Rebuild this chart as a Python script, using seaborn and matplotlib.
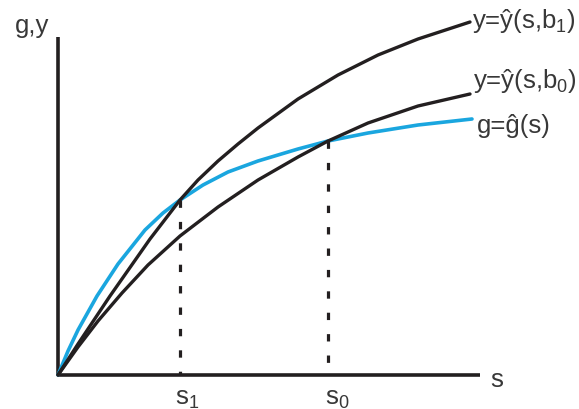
import matplotlib
matplotlib.use("Agg")
import matplotlib.pyplot as plt
import seaborn as sns

# Werte (Ursprung = Achsenkreuz, Einheit ~ Pixel)
s_b1 = [0, 20, 52, 92, 122, 140, 160, 180, 200, 240, 280, 320, 360, 412]
y_b1 = [0, 31, 79, 136, 175, 195, 214, 231, 247, 276, 300, 320, 336, 353]

s_b0 = [0, 20, 40, 64, 90, 122, 160, 200, 240, 270, 310, 360, 412]
y_b0 = [0, 28, 54, 82, 110, 139, 168, 195, 218, 234, 252, 269, 281]

s_g = [0, 10, 20, 39, 60, 87, 105, 122, 145, 170, 200, 240, 270, 310, 360, 414]
y_g = [0, 24, 45, 79, 111, 145, 162, 175, 190, 203, 214, 226, 234, 242, 250, 256]

s1, g1 = 122, 175
s0, g0 = 270, 234

labels_curves = ["y=ŷ(s,b$\\mathregular{_1}$)", "y=ŷ(s,b$\\mathregular{_0}$)", "g=ĝ(s)"]

sns.set_style("white")
plt.rcParams["font.family"] = ["Liberation Sans", "DejaVu Sans"]
plt.rcParams["mathtext.fontset"] = "custom"
plt.rcParams["mathtext.rm"] = "Liberation Sans"

schwarz = "#231f20"
blau = "#1aa6df"
textfarbe = "#383838"

fig = plt.figure(figsize=(5.79, 4.10), dpi=100)
ax = fig.add_axes([0, 0, 1, 1])
ax.set_xlim(-58, 521)
ax.set_ylim(-34, 376)
ax.axis("off")

# Achsen
ax.plot([0, 0], [0, 338], color=schwarz, lw=2.6, solid_capstyle="butt")
ax.plot([0, 422], [0, 0], color=schwarz, lw=2.6, solid_capstyle="butt")

# Kurven
kw = dict(ax=ax, estimator=None, solid_joinstyle="round")
sns.lineplot(x=s_g, y=y_g, color=blau, lw=2.6, **kw)
sns.lineplot(x=s_b1, y=y_b1, color=schwarz, lw=2.4, **kw)
sns.lineplot(x=s_b0, y=y_b0, color=schwarz, lw=2.4, **kw)

# gestrichelte Senkrechten
for sx, gy in [(s1, g1), (s0, g0)]:
    ax.plot([sx, sx], [gy, 0], color=schwarz, lw=2.3, linestyle=(0, (2.3, 4.4)))

fs = 18.5
ax.text(-43, 343, "g,y", fontsize=fs, color=textfarbe, va="baseline")
ax.text(432, -11, "s", fontsize=fs, color=textfarbe, va="baseline")
ax.text(s1 - 5, -29, "s$\\mathregular{_1}$", fontsize=fs, color=textfarbe, va="baseline")
ax.text(s0 - 3, -29, "s$\\mathregular{_0}$", fontsize=fs, color=textfarbe, va="baseline")

ax.text(414, 348, labels_curves[0], fontsize=fs, color=textfarbe, va="baseline")
ax.text(415, 288, labels_curves[1], fontsize=fs, color=textfarbe, va="baseline")
ax.text(419, 243, labels_curves[2], fontsize=fs, color=textfarbe, va="baseline")

fig.savefig("out.png", dpi=100)
